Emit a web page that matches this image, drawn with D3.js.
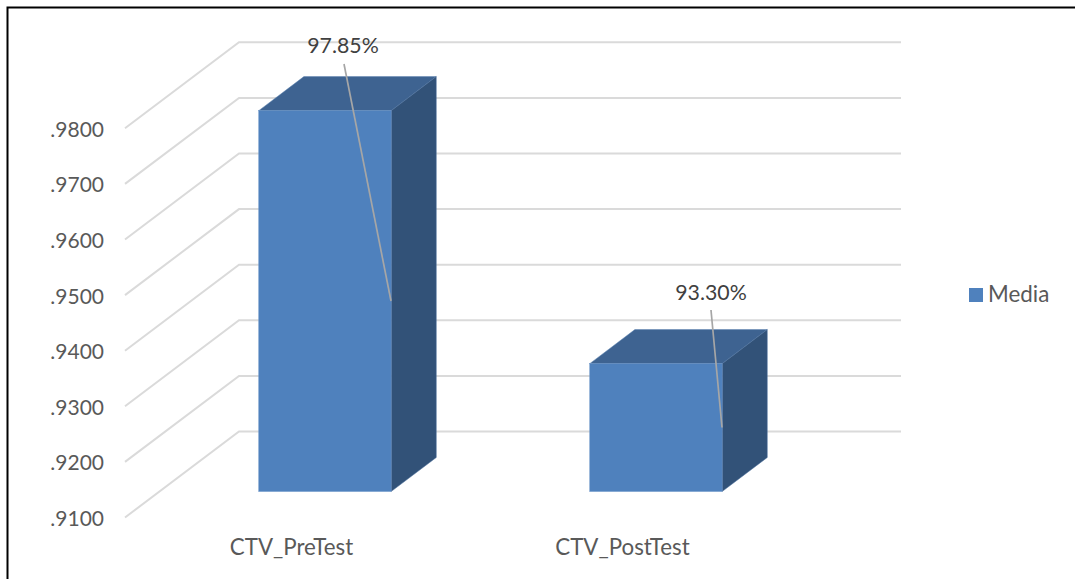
<!DOCTYPE html>
<html><head><meta charset="utf-8">
<script src="https://cdn.jsdelivr.net/npm/d3@7"></script>
<style>html,body{margin:0;padding:0;background:#fff}svg{display:block}text{font-family:Lato,"Open Sans",sans-serif}</style>
</head><body>
<svg id="c" width="1075" height="579"></svg>
<script>
const categories = ["CTV_PreTest", "CTV_PostTest"];
const values = [0.9785, 0.9330];
const valueLabels = ["97.85%", "93.30%"];
const tickValues = [0.91, 0.92, 0.93, 0.94, 0.95, 0.96, 0.97, 0.98];
const seriesName = "Media";

const svg = d3.select("#c");
const depthX = 114, depthY = -86;
const barT0 = 0.302, barT1 = 0.698;
const y = d3.scaleLinear().domain([0.91, 0.98]).range([517.5, 128.3]);
const x = d3.scaleBand().domain(categories).range([125, 787]).paddingInner(0.6).paddingOuter(0.3);
const tickFmt = d => d3.format(".4f")(d).replace(/^0/, "");

svg.append("path").attr("d", "M7.5,579V7.5H1075").attr("fill", "none").attr("stroke", "#000").attr("stroke-width", 2);

// 3D floor + back wall gridlines
svg.append("g").selectAll("path").data(tickValues).join("path")
  .attr("d", v => d3.line()([[125, y(v)], [125 + depthX, y(v) + depthY], [125 + 662 + depthX, y(v) + depthY]]))
  .attr("fill", "none").attr("stroke", "#dadada").attr("stroke-width", 2);

// y tick labels
svg.append("g").selectAll("text").data(tickValues).join("text")
  .attr("x", 104).attr("y", v => y(v) + 8.5).attr("text-anchor", "end")
  .attr("font-size", 21).attr("fill", "#595959").text(tickFmt);

// category labels
svg.append("g").selectAll("text").data(categories).join("text")
  .attr("x", c => x(c) + x.bandwidth() / 2 + 1).attr("y", 555).attr("text-anchor", "middle")
  .attr("font-size", 22.3).attr("fill", "#595959").text(c => c);

// bars
const bars = svg.append("g").selectAll("g").data(categories).join("g");
const base = y(0.91);
bars.each(function (c, i) {
  const g = d3.select(this);
  const xl = x(c) + depthX * barT0, xr = xl + x.bandwidth();
  const yb = base + depthY * barT0, yt = y(values[i]) + depthY * barT0;
  const dx = depthX * (barT1 - barT0), dy = depthY * (barT1 - barT0);
  const line = d3.line();
  g.append("path").attr("d", line([[xl, yt], [xl + dx, yt + dy], [xr + dx, yt + dy], [xr, yt]]) + "Z").attr("fill", "#3e6391").attr("stroke", "#5b82b0").attr("stroke-width", 0.5);
  g.append("path").attr("d", line([[xr, yt], [xr + dx, yt + dy], [xr + dx, yb + dy], [xr, yb]]) + "Z").attr("fill", "#325278").attr("stroke", "#4a6f9c").attr("stroke-width", 0.5);
  g.append("rect").attr("x", xl).attr("y", yt).attr("width", xr - xl).attr("height", yb - yt).attr("fill", "#4f81bd").attr("stroke", "#6f97c9").attr("stroke-width", 0.5);
});

// data labels with leader lines
const leaderStart = [[344, 64], [711, 310]];
const leaderEnd = [[391, 301], [722, 427.5]];
const labelPos = [[343, 53], [711, 300]];
svg.append("g").selectAll("path").data(categories).join("path")
  .attr("d", (c, i) => d3.line()([leaderStart[i], leaderEnd[i]]))
  .attr("stroke", "#a6a6a6").attr("stroke-width", 1.7).attr("fill", "none");
svg.append("g").selectAll("text").data(valueLabels).join("text")
  .attr("x", (d, i) => labelPos[i][0]).attr("y", (d, i) => labelPos[i][1]).attr("text-anchor", "middle")
  .attr("font-size", 21.3).attr("fill", "#404040").text(d => d);

// legend
svg.append("rect").attr("x", 969).attr("y", 288).attr("width", 14).attr("height", 14).attr("fill", "#4f81bd");
svg.append("text").attr("x", 988).attr("y", 302).attr("font-size", 22.4).attr("fill", "#595959").text(seriesName);
</script>
</body></html>
